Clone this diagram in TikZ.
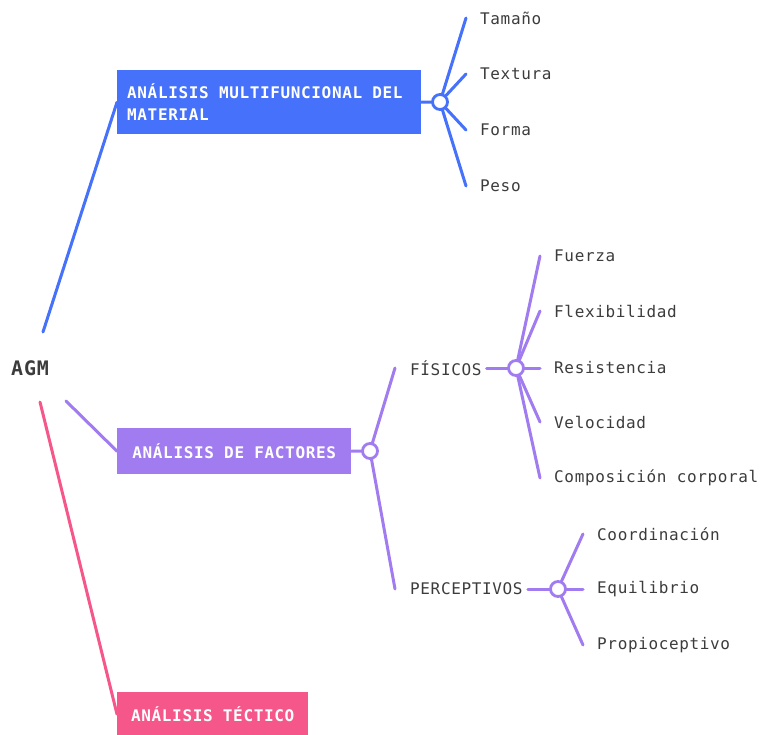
\documentclass[tikz,border=0pt]{standalone}
\usepackage{fontspec}
\setmainfont{DejaVu Sans Mono}[LetterSpace=4]
\definecolor{cblue}{HTML}{4571FB}
\definecolor{cpurple}{HTML}{A17CF0}
\definecolor{cpink}{HTML}{F5578A}
\definecolor{ctext}{HTML}{3C3C3C}
\tikzset{
  leaf/.style={anchor=west, inner sep=0pt, text=ctext, font=\fontsize{16}{18}\selectfont},
  boxnode/.style={inner sep=0pt, text=white, font=\bfseries\fontsize{16}{22}\selectfont},
  conn/.style={line width=3pt, line cap=round},
  hub/.style={circle, draw, fill=white, line width=2.8pt, minimum size=15pt, inner sep=0pt},
}
\begin{document}
\begin{tikzpicture}[x=1pt,y=-1pt]
\useasboundingbox (0,0) rectangle (763,735);
% root
\node[anchor=west, inner sep=0pt, text=ctext, font=\bfseries\fontsize{20}{22}\selectfont] (agm) at (11,368) {AGM};
\coordinate (agmT) at (43,332);
\coordinate (agmP) at (66,401);
\coordinate (agmK) at (40,402);
% boxes
\node[boxnode, fill=cblue, minimum width=304pt, minimum height=64pt, anchor=north west] (b1) at (117,70)
  {\begin{minipage}{284pt}ANÁLISIS MULTIFUNCIONAL DEL\\MATERIAL\end{minipage}};
\node[boxnode, fill=cpurple, minimum width=234pt, minimum height=46pt, anchor=north west] (b2) at (117,428) {ANÁLISIS DE FACTORES};
\node[boxnode, fill=cpink, minimum width=191pt, minimum height=44pt, anchor=north west] (b3) at (117,692) {ANÁLISIS TÉCTICO};
% level-1 connectors
\draw[conn, cblue] (agmT) -- (b1.west);
\draw[conn, cpurple] (agmP) -- (b2.west);
\draw[conn, cpink] (agmK) -- (b3.west);
% blue branch
\node[leaf] (l1) at (480,18) {Tamaño};
\node[leaf] (l2) at (480,74) {Textura};
\node[leaf] (l3) at (480,130) {Forma};
\node[leaf] (l4) at (480,186) {Peso};
\coordinate (c1p) at (440,102);
\draw[conn, cblue] (b1.east) -- (c1p);
\foreach \n in {l1,l2,l3,l4} \draw[conn, cblue] (c1p) -- ([xshift=-14pt]\n.west);
\node[hub, draw=cblue] (c1) at (c1p) {};
% purple branch
\node[leaf] (fis) at (410,368) {FÍSICOS};
\node[leaf] (per) at (410,589) {PERCEPTIVOS};
\coordinate (c2p) at (370,451);
\draw[conn, cpurple] (b2.east) -- (c2p);
\draw[conn, cpurple] (c2p) -- ([xshift=-15pt]fis.west);
\draw[conn, cpurple] (c2p) -- ([xshift=-15pt]per.west);
\node[hub, draw=cpurple] (c2) at (c2p) {};
% fisicos
\node[leaf] (f1) at (554,256) {Fuerza};
\node[leaf] (f2) at (554,311) {Flexibilidad};
\node[leaf] (f3) at (554,368) {Resistencia};
\node[leaf] (f4) at (554,422) {Velocidad};
\node[leaf] (f5) at (554,478) {Composición corporal};
\coordinate (c3p) at (516,368);
\draw[conn, cpurple] ([xshift=5pt]fis.east) -- (c3p);
\foreach \n in {f1,f2,f3,f4,f5} \draw[conn, cpurple] (c3p) -- ([xshift=-14pt]\n.west);
\node[hub, draw=cpurple] (c3) at (c3p) {};
% perceptivos
\node[leaf] (p1) at (597,534) {Coordinación};
\node[leaf] (p2) at (597,589) {Equilibrio};
\node[leaf] (p3) at (597,645) {Propioceptivo};
\coordinate (c4p) at (558,589);
\draw[conn, cpurple] ([xshift=5pt]per.east) -- (c4p);
\foreach \n in {p1,p2,p3} \draw[conn, cpurple] (c4p) -- ([xshift=-14pt]\n.west);
\node[hub, draw=cpurple] (c4) at (c4p) {};
\end{tikzpicture}
\end{document}
